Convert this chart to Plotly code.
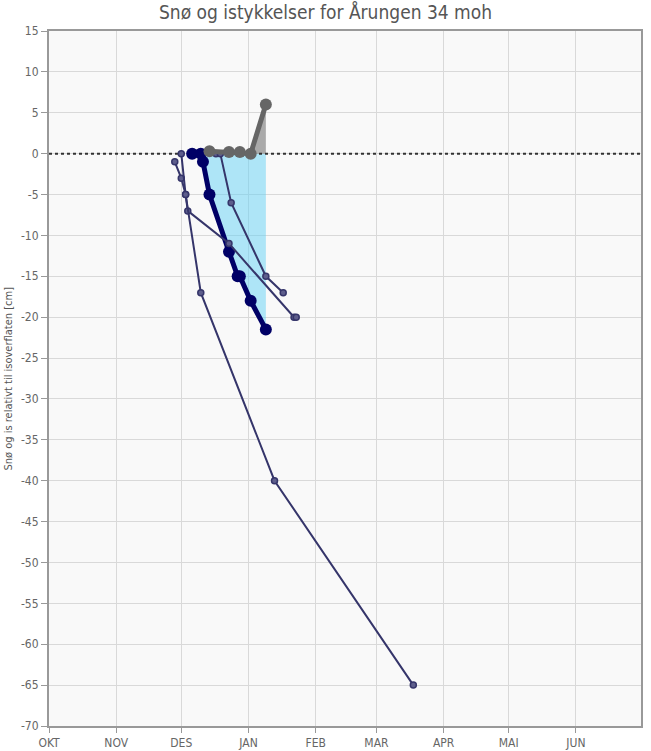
import plotly.graph_objects as go

# ---- data ----
MONTH_TICKS = ["2022-10-01", "2022-11-01", "2022-12-01", "2023-01-01", "2023-02-01",
               "2023-03-01", "2023-04-01", "2023-05-01", "2023-06-01"]
MONTH_LABELS = ["OKT", "NOV", "DES", "JAN", "FEB", "MAR", "APR", "MAI", "JUN"]
Y_TICKS = list(range(-70, 16, 5))

# current season: ice (thick navy) and snow (thick grey)
ice_dates = ["2022-12-06", "2022-12-10", "2022-12-11", "2022-12-14", "2022-12-23",
             "2022-12-27", "2022-12-28", "2023-01-02", "2023-01-09"]
ice_vals = [0, 0, -1, -5, -12, -15, -15, -18, -21.5]

snow_dates = ["2022-12-14", "2022-12-23", "2022-12-28", "2023-01-02", "2023-01-09"]
snow_vals = [0.3, 0.2, 0.2, 0, 6]

# earlier seasons (thin lines)
s1_dates = ["2022-11-28", "2022-12-01", "2022-12-03", "2022-12-04", "2022-12-23",
            "2023-01-22", "2023-01-23"]
s1_vals = [-1, -3, -5, -7, -11, -20, -20]

s2_dates = ["2022-12-01", "2022-12-03", "2022-12-10", "2023-01-13", "2023-03-18"]
s2_vals = [0, -5, -17, -40, -65]

s3_dates = ["2022-12-17", "2022-12-19", "2022-12-24", "2023-01-09", "2023-01-17"]
s3_vals = [0, 0, -6, -15, -17]

X_RANGE = ["2022-10-01", "2023-07-01"]

FONT = "Liberation Sans Narrow, DejaVu Sans Condensed, Arial Narrow, sans-serif"
THIN = "#35356a"

fig = go.Figure()

# fills
fig.add_trace(go.Scatter(x=ice_dates, y=ice_vals, mode="lines", fill="tozeroy",
                         line=dict(width=0, color="rgba(0,0,0,0)"),
                         fillcolor="rgba(100,210,245,0.5)", hoverinfo="skip", showlegend=False))
fig.add_trace(go.Scatter(x=snow_dates, y=snow_vals, mode="lines", fill="tozeroy",
                         line=dict(width=0, color="rgba(0,0,0,0)"),
                         fillcolor="rgba(105,105,105,0.55)", hoverinfo="skip", showlegend=False))

# zero reference line (dotted)
fig.add_trace(go.Scatter(x=X_RANGE, y=[0, 0], mode="lines",
                         line=dict(color="#333333", width=2, dash="dot"),
                         hoverinfo="skip", showlegend=False))

# current season ice
fig.add_trace(go.Scatter(x=ice_dates, y=ice_vals, mode="lines+markers", name="Is",
                         line=dict(color="#000066", width=5),
                         marker=dict(size=12, color="#000066"), showlegend=False))

# previous seasons
for d, v in [(s1_dates, s1_vals), (s2_dates, s2_vals), (s3_dates, s3_vals)]:
    fig.add_trace(go.Scatter(x=d, y=v, mode="lines+markers",
                             line=dict(color=THIN, width=2),
                             marker=dict(size=6, color="#5e5e8c", line=dict(color=THIN, width=1.5)),
                             showlegend=False))

# current season snow
fig.add_trace(go.Scatter(x=snow_dates, y=snow_vals, mode="lines+markers", name="Snø",
                         line=dict(color="#666666", width=5),
                         marker=dict(size=12, color="#666666"), showlegend=False))

fig.update_layout(
    width=651, height=751,
    margin=dict(l=49, r=10, t=31, b=25),
    paper_bgcolor="white", plot_bgcolor="#f9f9f9",
    font=dict(family=FONT, color="#666666", size=12),
    title=dict(text="Snø og istykkelser for Årungen 34 moh", x=0.5, xref="container",
               y=0.983, yref="container", yanchor="middle", xanchor="center",
               font=dict(family=FONT, size=19, color="#555555")),
    xaxis=dict(type="date", range=X_RANGE, tickvals=MONTH_TICKS, ticktext=MONTH_LABELS,
               showgrid=True, gridcolor="#d9d9d9", gridwidth=1, automargin=False,
               ticks="outside", ticklen=5, tickcolor="#999999",
               showline=True, linecolor="#999999", linewidth=2, mirror=True,
               zeroline=False, tickfont=dict(size=12, color="#666666")),
    yaxis=dict(range=[-70, 15], tickvals=Y_TICKS, ticktext=[str(v) for v in Y_TICKS],
               showgrid=True, gridcolor="#d9d9d9", gridwidth=1, automargin=False,
               ticks="outside", ticklen=6, tickcolor="#999999",
               showline=True, linecolor="#999999", linewidth=2, mirror=True,
               zeroline=False, tickfont=dict(size=12, color="#666666")),
    annotations=[dict(text="Snø og is relativt til isoverflaten [cm]", textangle=-90,
                      xref="paper", yref="paper", x=0, y=0.5, xshift=-41,
                      xanchor="center", yanchor="middle", showarrow=False,
                      font=dict(family=FONT, size=11, color="#555555"))],
)

fig.write_html("out.html", config={"displayModeBar": False},
               post_script="document.body.style.margin='0';document.body.style.overflow='hidden';")
